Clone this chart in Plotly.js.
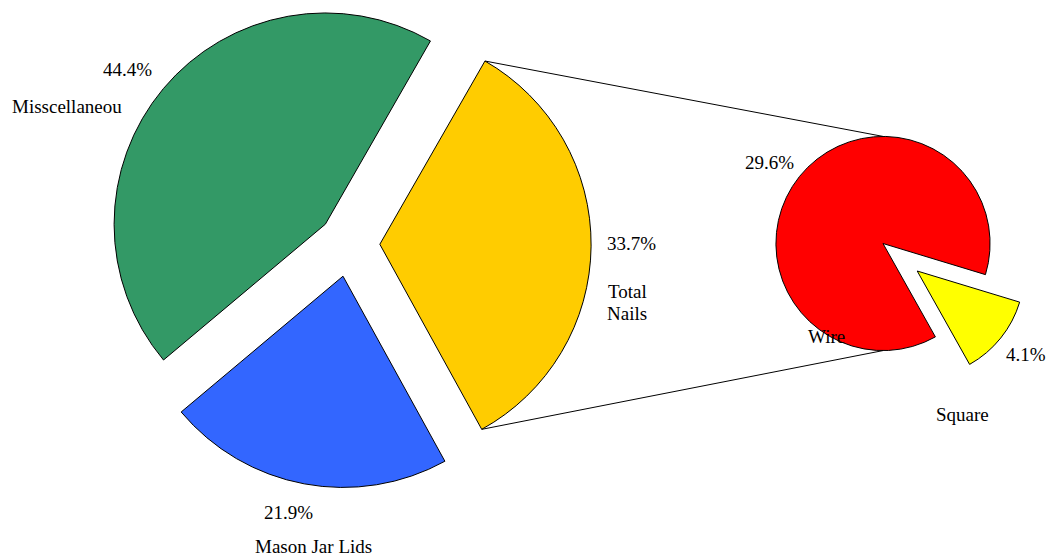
<!DOCTYPE html>
<html>
<head>
<meta charset="utf-8">
<script src="https://cdn.plot.ly/plotly-3.0.1.min.js"></script>
<style>html,body{margin:0;padding:0;background:#fff;}#chart{width:1052px;height:559px;}</style>
</head>
<body>
<div id="chart"></div>
<script>
// Data
const mainLabels = ['Misscellaneou', 'Total Nails', 'Mason Jar Lids'];
const mainValues = [44.4, 33.7, 21.9];
const mainColors = ['#339966', '#FFCC00', '#3366FF'];
const subLabels = ['Square', 'Wire'];
const subValues = [4.1, 29.6];
const subColors = ['#FFFF00', '#FF0000'];

const W = 1052, H = 559;
const mainDomain = {x: [0.0998, 0.5637], y: [0.127, 1.0]};
const subDomain = {x: [0.6958, 0.9829], y: [0.2943, 0.8345]};
const mainRotation = -130, subRotation = 106.9;
const mainPull = [0.146, 0.146, 0.155];
const subPull = [0.41, 0];

const font = {family: 'Liberation Serif, Times New Roman, serif', size: 19, color: '#000'};

const traces = [
  {
    type: 'pie', labels: mainLabels, values: mainValues, sort: false,
    direction: 'clockwise', rotation: mainRotation, pull: mainPull,
    marker: {colors: mainColors, line: {color: '#000', width: 1}},
    textinfo: 'none', hoverinfo: 'none', domain: mainDomain, showlegend: false
  },
  {
    type: 'pie', labels: subLabels, values: subValues, sort: false,
    direction: 'clockwise', rotation: subRotation, pull: subPull,
    marker: {colors: subColors, line: {color: '#000', width: 1}},
    textinfo: 'none', hoverinfo: 'none', domain: subDomain, showlegend: false
  }
];

// geometry helpers (mirroring Plotly's pie sizing) for the connector lines
function pieGeom(domain, pulls) {
  const bw = (domain.x[1] - domain.x[0]) * W;
  const bh = (domain.y[1] - domain.y[0]) * H;
  const maxPull = Math.max.apply(null, pulls);
  const r = Math.min(bw, bh) / (2 + 2 * maxPull);
  const cx = W * (domain.x[0] + domain.x[1]) / 2;
  const cy = H * (1 - domain.y[0]) - bh / 2;
  return {r, cx, cy};
}
function pt(cx, cy, r, a) { // a = plotly angle in degrees (0 top, clockwise)
  const t = a * Math.PI / 180;
  return [cx + r * Math.sin(t), cy - r * Math.cos(t)];
}
const mg = pieGeom(mainDomain, mainPull);
const mTot = mainValues.reduce((s, v) => s + v, 0);
const yStart = mainRotation + mainValues[0] / mTot * 360;
const yEnd = yStart + mainValues[1] / mTot * 360;
const yMid = (yStart + yEnd) / 2;
const off = pt(0, 0, mainPull[1] * mg.r, yMid);
const pA = pt(mg.cx + off[0], mg.cy + off[1], mg.r, yStart);
const pB = pt(mg.cx + off[0], mg.cy + off[1], mg.r, yEnd);
const sg = pieGeom(subDomain, subPull);
const qA = [sg.cx, sg.cy - sg.r];
const qB = [sg.cx, sg.cy + sg.r];
function px(p) { return [p[0] / W, 1 - p[1] / H]; }
function line(a, b) {
  const A = px(a), B = px(b);
  return {type: 'line', xref: 'paper', yref: 'paper', x0: A[0], y0: A[1], x1: B[0], y1: B[1],
          line: {color: '#000', width: 1}};
}

function pct(v) { return v.toFixed(1) + '%'; }
function ann(text, x, y) {
  return {text: text, x: x / W, y: 1 - y / H, xref: 'paper', yref: 'paper',
          showarrow: false, xanchor: 'center', yanchor: 'middle', font: font};
}
const annotations = [
  ann(pct(mainValues[0]), 127, 69),
  ann(mainLabels[0], 67, 106),
  ann(pct(mainValues[1]), 631, 244),
  ann('Total', 627, 291),
  ann('Nails', 627, 313),
  ann(pct(mainValues[2]), 288, 512),
  ann(mainLabels[2], 313, 546),
  ann(pct(subValues[1]), 769, 162),
  ann(subLabels[1], 826, 336),
  ann(pct(subValues[0]), 1026, 354),
  ann(subLabels[0], 962, 414)
];

const layout = {
  width: W, height: H, margin: {l: 0, r: 0, t: 0, b: 0},
  paper_bgcolor: '#fff', plot_bgcolor: '#fff', showlegend: false,
  shapes: [line(pA, qA), line(pB, qB)],
  annotations: annotations
};
Plotly.newPlot('chart', traces, layout, {displayModeBar: false, staticPlot: true});
</script>
</body>
</html>
